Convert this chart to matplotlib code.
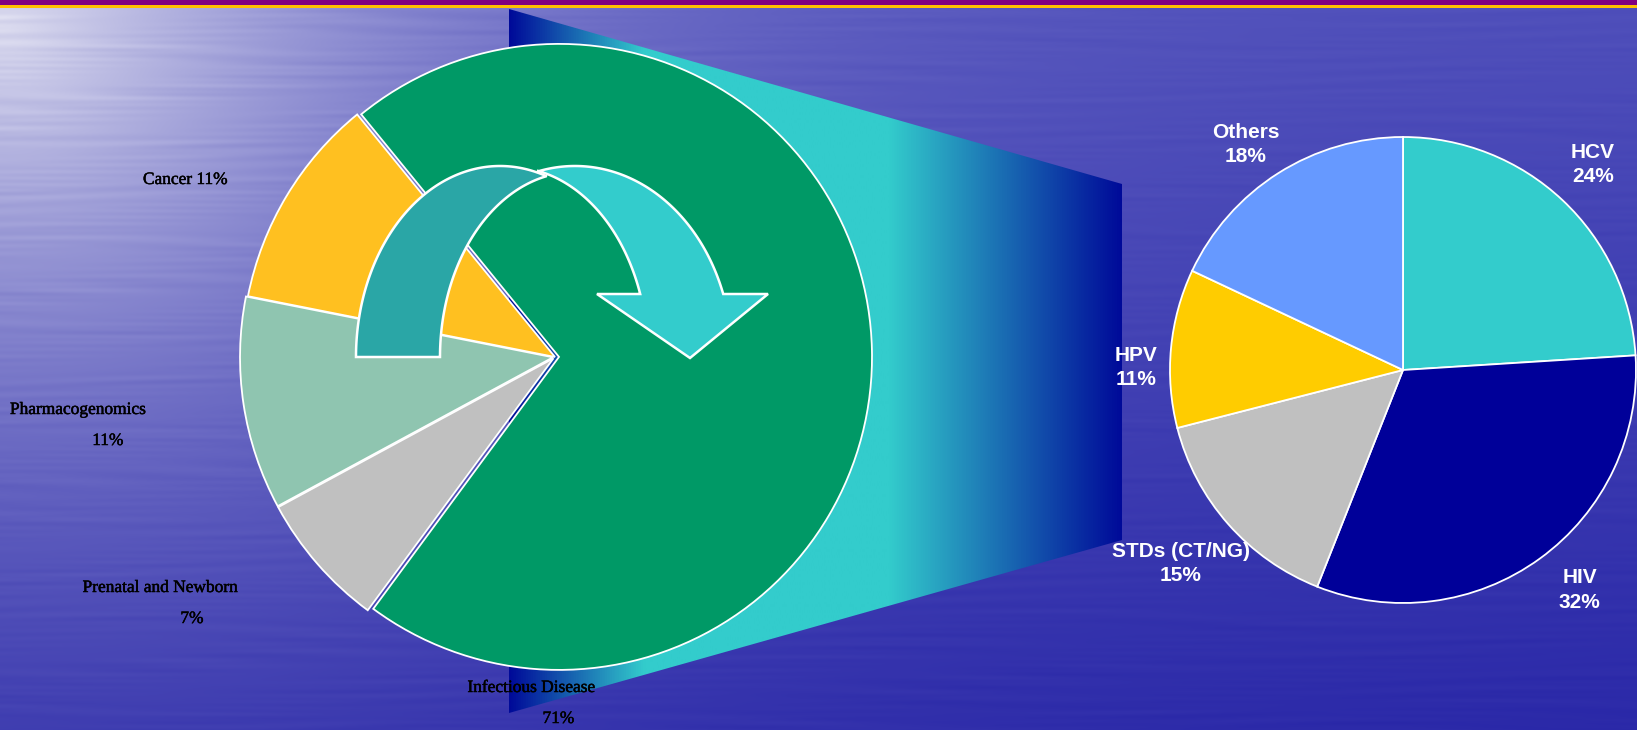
import numpy as np
import matplotlib
matplotlib.use("Agg")
import matplotlib.pyplot as plt
import matplotlib.patheffects as pe
from matplotlib.patches import Polygon, Rectangle
from matplotlib.colors import LinearSegmentedColormap

# Share of the test menu by area (left pie)
menu_labels = ["Infectious Disease", "Cancer", "Pharmacogenomics", "Prenatal and Newborn"]
menu_share = [71, 11, 11, 7]
menu_colors = ["#009966", "#FFC020", "#8FC5B0", "#C0C0C0"]

# Breakdown of the infectious-disease slice (right pie)
infect_labels = ["HCV", "HIV", "STDs (CT/NG)", "HPV", "Others"]
infect_share = [24, 32, 15, 11, 18]
infect_colors = ["#33CCCC", "#000099", "#C0C0C0", "#FFCC00", "#6699FF"]

W, H = 1637, 730


def Y(y):
    """Convert a top-down pixel row to the upward axis coordinate."""
    return H - y


fig = plt.figure(figsize=(W / 100, H / 100), dpi=100)
ax = fig.add_axes([0, 0, 1, 1])

# ---- water-like blue backdrop with a bright glow in the upper-left corner
yy, xx = np.mgrid[0:H, 0:W].astype(float)
tv = (yy / H)[..., None]
top_c = np.array([78, 78, 186.0])
bot_c = np.array([42, 40, 168.0])
base = top_c * (1 - tv) + bot_c * tv
d = np.sqrt(xx ** 2 + ((yy - 20) * 1.15) ** 2)
glow = (0.93 * np.exp(-(d / 430.0) ** 1.15))[..., None]
glow_c = np.array([228, 228, 242.0])
bg = base * (1 - glow) + glow_c * glow
ripple = (np.sin(yy * 0.42 + 2.6 * np.sin(xx * 0.0075 + yy * 0.031))
          * (0.5 + 0.5 * np.sin(xx * 0.012 + 3.0 * np.sin(yy * 0.066))))
ripple2 = np.sin(yy * 0.9 + 1.9 * np.sin(xx * 0.0045 - yy * 0.05)) \
    * (0.5 + 0.5 * np.sin(xx * 0.021 + yy * 0.11))
amp = 3 + 9 * glow[..., 0]
bg = bg + ((0.65 * ripple + 0.35 * ripple2) * amp)[..., None] * np.array([1, 1, 0.5])
bg = np.clip(bg, 0, 255).astype(np.uint8)
ax.imshow(bg, extent=(0, W, 0, H), origin="upper", aspect="auto", zorder=0,
          interpolation="bilinear")

# ---- top rule
ax.add_patch(Rectangle((0, Y(4.8)), W, 4.8, color="#800080", zorder=6, lw=0))
ax.add_patch(Rectangle((0, Y(8.0)), W, 3.2, color="#FFC000", zorder=6, lw=0))

# ---- zoom trapezoid with a navy-cyan-navy horizontal gradient
trap_x0, trap_x1 = 509, 1122
trap = Polygon([(trap_x0, Y(9)), (trap_x1, Y(184)), (trap_x1, Y(540)), (trap_x0, Y(713))],
               closed=True, facecolor="none", edgecolor="none")
ax.add_patch(trap)
grad_cmap = LinearSegmentedColormap.from_list(
    "zoom", [(0.0, "#000A99"), (0.22, "#33CCCC"), (0.62, "#33CCCC"), (1.0, "#000A99")])
grad = np.linspace(0, 1, 512)[None, :]
gim = ax.imshow(grad, cmap=grad_cmap, extent=(trap_x0, trap_x1, Y(713), Y(9)),
                aspect="auto", zorder=1, interpolation="bilinear")
gim.set_clip_path(trap)

# ---- left pie
left_center = (555, Y(357))
left_r = 313
green_span = 360 * menu_share[0] / sum(menu_share)
wedges_l, _ = ax.pie(menu_share, colors=menu_colors, startangle=129.2 - green_span,
                     counterclock=True, center=left_center, radius=left_r,
                     explode=[4, 0, 2, 2], frame=True,
                     wedgeprops=dict(edgecolor="white", linewidth=1.3))
for w in wedges_l:
    w.set_zorder(2)

# ---- right pie
wedges_r, _ = ax.pie(infect_share, colors=infect_colors, startangle=90,
                     counterclock=False, center=(1403, Y(370)), radius=233, frame=True,
                     wedgeprops=dict(edgecolor="white", linewidth=1.3))
for w in wedges_r:
    w.set_zorder(2)


# ---- curved arrow (back band, then front band with head)
def arc(cx, cy, a, b, t0, t1, n=160):
    t = np.linspace(t0, t1, n)
    return np.column_stack([cx + a * np.cos(t), Y(cy) + b * np.sin(t)])


back = np.vstack([arc(500, 357, 144, 191, np.pi, 1.246),
                  arc(575, 357, 135, 185, 1.788, np.pi)])
ax.add_patch(Polygon(back, closed=True, facecolor="#2AA6A6", edgecolor="white",
                     lw=1.8, zorder=4, joinstyle="miter"))

t_o = np.arcsin(63 / 191)
t_i = np.arcsin(63 / 190)
head = np.array([(768, Y(294)), (690, Y(358)), (597, Y(294))])
front = np.vstack([arc(575, 357, 157, 191, 1.809, t_o), head,
                   arc(510, 357, 138, 190, t_i, 1.366)])
ax.add_patch(Polygon(front, closed=True, facecolor="#33CCCC", edgecolor="white",
                     lw=1.8, zorder=5, joinstyle="miter"))

# ---- labels, left pie (serif, black)
heavy = [pe.withStroke(linewidth=0.35, foreground="black")]
serif = dict(family="Liberation Serif", fontsize=12.5, color="black", zorder=7,
             ha="center", va="center", path_effects=heavy)
ax.text(185.5, Y(180), f"{menu_labels[1]} {menu_share[1]}%", **serif)
ax.text(78, Y(410), menu_labels[2], **serif)
ax.text(108, Y(441), f"{menu_share[2]}%", **serif)
ax.text(160.5, Y(588), menu_labels[3], **serif)
ax.text(192, Y(619), f"{menu_share[3]}%", **serif)
ax.text(531.5, Y(688), menu_labels[0], **serif)
ax.text(558.5, Y(719), f"{menu_share[0]}%", **serif)

# ---- labels, right pie (bold sans, white)
right_pos = [(1593, 164.5), (1579.5, 590), (1180.5, 563.5), (1136, 367.5), (1245.5, 144.5)]
for name, val, (x, y) in zip(infect_labels, infect_share, right_pos):
    ax.text(x, Y(y), f"{name}\n{val}%", family="Liberation Sans", fontweight="bold",
            fontsize=15, color="white", ha="center", va="center",
            linespacing=1.38, zorder=7)

ax.set_xlim(0, W)
ax.set_ylim(0, H)
ax.set_aspect("auto")
ax.axis("off")

fig.savefig("out.png", dpi=100)
